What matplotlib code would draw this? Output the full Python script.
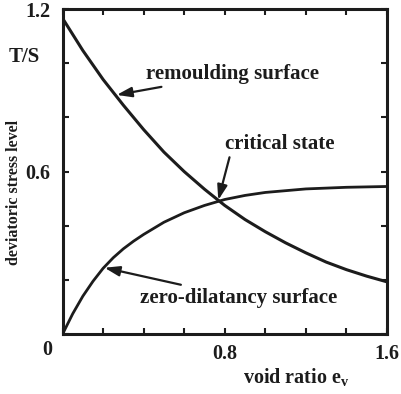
import numpy as np
import matplotlib
matplotlib.use('Agg')
import matplotlib.pyplot as plt

# valeurs
e_remould = [0.0, 0.1, 0.2, 0.3, 0.4, 0.5, 0.6, 0.7, 0.8, 0.9, 1.0, 1.1, 1.2, 1.3, 1.4, 1.5, 1.6]
q_remould = [1.166, 1.047, 0.94, 0.845, 0.755, 0.672, 0.6, 0.535, 0.475, 0.423, 0.378, 0.337, 0.3, 0.266, 0.238, 0.214, 0.193]

e_zero = [0.0, 0.05, 0.1, 0.15, 0.2, 0.25, 0.3, 0.35, 0.4, 0.5, 0.6, 0.7, 0.8, 0.9, 1.0, 1.2, 1.4, 1.6]
q_zero = [0.0, 0.075, 0.14, 0.195, 0.243, 0.282, 0.315, 0.343, 0.368, 0.413, 0.448, 0.475, 0.497, 0.512, 0.523, 0.536, 0.542, 0.545]

x_ticks = [0, 0.2, 0.4, 0.6, 0.8, 1.0, 1.2, 1.4, 1.6]
x_labels = ['', '', '', '', '0.8', '', '', '', '1.6']
y_ticks = [0, 0.2, 0.4, 0.6, 0.8, 1.0, 1.2]
y_labels = ['', '', '', '0.6', '', '', '1.2']

crit = (0.768, 0.495)

INK = '#1c1c1c'
plt.rcParams['font.family'] = ['Liberation Serif', 'DejaVu Serif']
plt.rcParams['font.weight'] = 'bold'
plt.rcParams['mathtext.fontset'] = 'custom'
plt.rcParams['mathtext.rm'] = 'Liberation Serif:bold'

fig = plt.figure(figsize=(4.01, 3.94), dpi=100)
ax = fig.add_axes([0.156, 0.152, 0.809, 0.825])

ax.plot(e_remould, q_remould, color=INK, lw=2.2)
ax.plot(e_zero, q_zero, color=INK, lw=2.0)

ax.set_xlim(0, 1.6)
ax.set_ylim(0, 1.2)
ax.set_xticks(x_ticks)
ax.set_xticklabels(x_labels)
ax.set_yticks(y_ticks)
ax.set_yticklabels(y_labels)
ax.tick_params(direction='in', length=4, width=1.5, top=True, right=True,
               labelsize=14.5, colors=INK)
ax.tick_params(axis='x', pad=7)
ax.tick_params(axis='y', pad=9)
for s in ax.spines.values():
    s.set_linewidth(2.2)
    s.set_color(INK)

# label "0" commun aux deux axes
fig.text(47 / 401, 1 - 350 / 394, '0', fontsize=14.5, color=INK,
         ha='center', va='center')

fig.text(14 / 401, 1 - 192 / 394, 'deviatoric stress level', rotation=90,
         fontsize=11.5, color=INK, ha='center', va='center')
fig.text(24 / 401, 1 - 57 / 394, 'T/S', fontsize=15, color=INK,
         ha='center', va='center')
fig.text(296 / 401, 1 - 378 / 394, r'void ratio e$_\mathrm{v}$', fontsize=14.5,
         color=INK, ha='center', va='center')

arrow = dict(arrowstyle='-|>,head_length=0.6,head_width=0.2', color=INK,
             lw=1.6, shrinkA=0, shrinkB=0)
ax.annotate('remoulding surface', xy=(0.267, 0.883), xytext=(0.41, 0.96),
            fontsize=15, color=INK, ha='left', va='center',
            arrowprops=arrow)
ax.annotate('critical state', xy=crit, xytext=(0.80, 0.70),
            fontsize=15, color=INK, ha='left', va='center',
            arrowprops=dict(arrow, relpos=(0.05, 0.0)))
ax.annotate('zero-dilatancy surface', xy=(0.207, 0.245), xytext=(0.38, 0.135),
            fontsize=15, color=INK, ha='left', va='center',
            arrowprops=arrow)

fig.savefig('out.png', dpi=100)
